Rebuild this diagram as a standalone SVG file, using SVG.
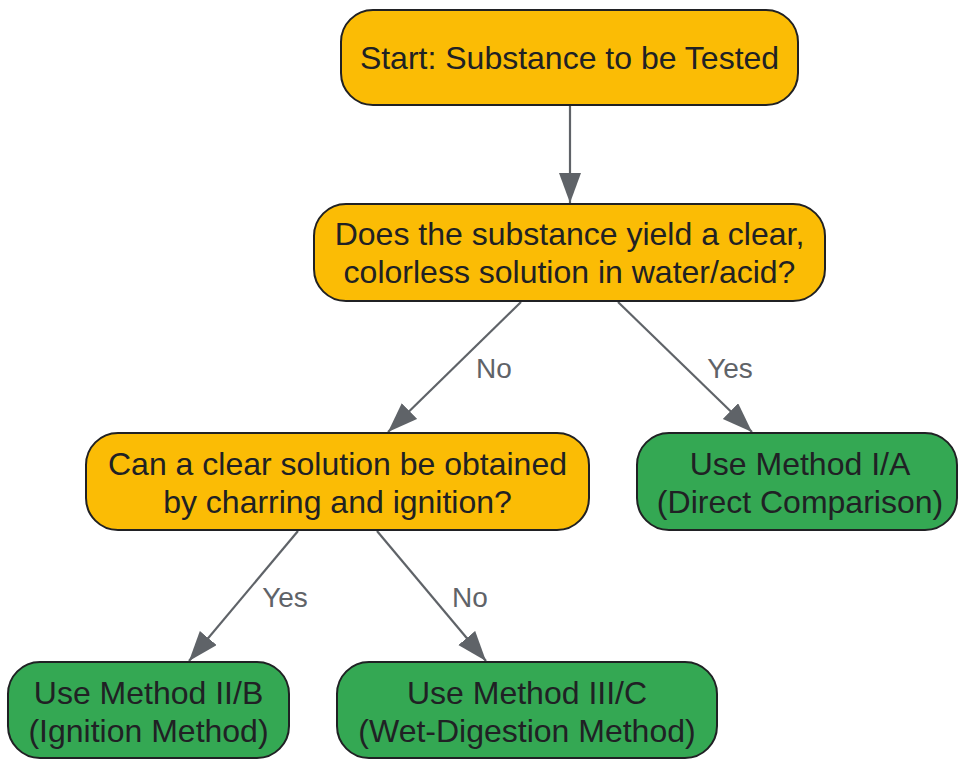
<svg xmlns="http://www.w3.org/2000/svg" width="959" height="759" viewBox="0 0 959 759">
<style>
.orange{fill:#FBBC05;stroke:#202124;stroke-width:2}
.green{fill:#34A853;stroke:#202124;stroke-width:2}
.t{font-family:"Liberation Sans",Arial,sans-serif;font-size:32px;fill:#202124;text-anchor:middle}
.lbl{font-family:"Liberation Sans",Arial,sans-serif;font-size:28px;fill:#5f6368;text-anchor:middle}
.edge{stroke:#5f6368;stroke-width:2.2;fill:none;marker-end:url(#arr)}
</style>
<defs>
<marker id="arr" markerUnits="userSpaceOnUse" markerWidth="32" markerHeight="24" refX="30" refY="11" orient="auto">
<path d="M0,0 L30,11 L0,22 z" fill="#5f6368"/>
</marker>
</defs>
<rect width="959" height="759" fill="#ffffff"/>
<g id="connectors">
<line class="edge" x1="570" y1="106" x2="570" y2="203"/>
<line class="edge" x1="521" y1="302" x2="388" y2="432"/>
<line class="edge" x1="618" y1="302" x2="752" y2="432"/>
<line class="edge" x1="298" y1="531" x2="189" y2="661"/>
<line class="edge" x1="377" y1="531" x2="486" y2="661"/>
<text class="lbl" x="494" y="378">No</text>
<text class="lbl" x="730" y="378">Yes</text>
<text class="lbl" x="285" y="607">Yes</text>
<text class="lbl" x="470" y="607">No</text>
</g>
<g id="start">
<rect class="orange" x="341" y="10" width="457" height="95" rx="32"/>
<text class="t" x="569.5" y="69">Start: Substance to be Tested</text>
</g>
<g id="q1">
<rect class="orange" x="314" y="204" width="511" height="97" rx="32"/>
<text class="t" x="569.5" y="245">Does the substance yield a clear,</text>
<text class="t" x="569.5" y="283">colorless solution in water/acid?</text>
</g>
<g id="q2">
<rect class="orange" x="86" y="433" width="503" height="97" rx="32"/>
<text class="t" x="337.5" y="475">Can a clear solution be obtained</text>
<text class="t" x="337.5" y="513">by charring and ignition?</text>
</g>
<g id="m1">
<rect class="green" x="637" y="433" width="320" height="97" rx="32"/>
<text class="t" x="800" y="475">Use Method I/A</text>
<text class="t" x="800" y="513">(Direct Comparison)</text>
</g>
<g id="m2">
<rect class="green" x="8" y="662" width="281" height="96" rx="32"/>
<text class="t" x="148.5" y="704">Use Method II/B</text>
<text class="t" x="148.5" y="742">(Ignition Method)</text>
</g>
<g id="m3">
<rect class="green" x="337" y="662" width="380" height="96" rx="32"/>
<text class="t" x="527" y="704">Use Method III/C</text>
<text class="t" x="527" y="742">(Wet-Digestion Method)</text>
</g>
</svg>
